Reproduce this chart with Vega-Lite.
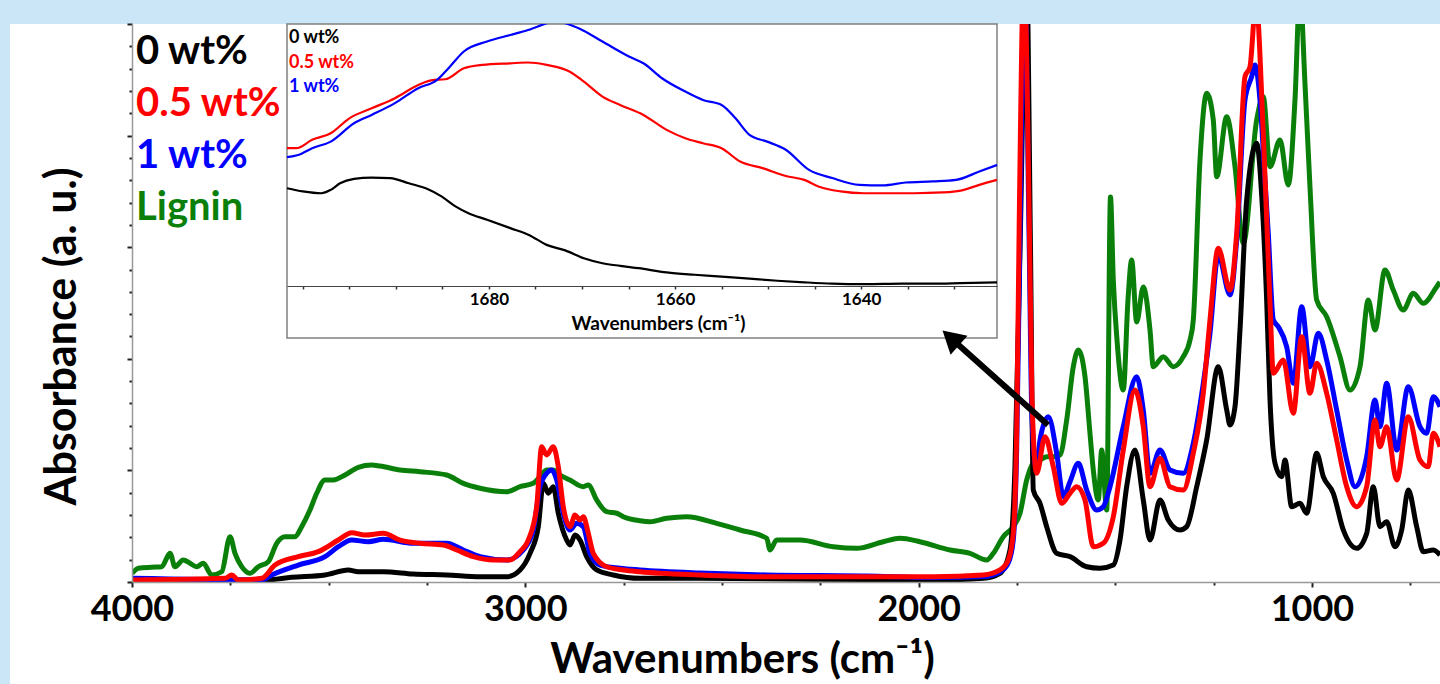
{
  "$schema": "https://vega.github.io/schema/vega-lite/v6.json",
  "width": 1308,
  "height": 558,
  "autosize": {"type": "none"},
  "padding": {"left": 132, "top": 24, "right": 0, "bottom": 102},
  "background": "#cbe6f6",
  "config": {
    "font": "Lato",
    "view": {"stroke": null},
    "axis": {"grid": false, "zindex": 1}
  },
  "datasets": {
    "main": [
      {"s":"Lignin","w":4000,"a":0.078},{"s":"Lignin","w":3984,"a":0.123},{"s":"Lignin","w":3950,"a":0.132},{"s":"Lignin","w":3924.5,"a":0.137},{"s":"Lignin","w":3903.4,"a":0.257},{"s":"Lignin","w":3890.7,"a":0.137},{"s":"Lignin","w":3869.6,"a":0.197},{"s":"Lignin","w":3852.5,"a":0.168},{"s":"Lignin","w":3835.5,"a":0.137},{"s":"Lignin","w":3818.7,"a":0.168},{"s":"Lignin","w":3797.4,"a":0.063},{"s":"Lignin","w":3771.9,"a":0.092},{"s":"Lignin","w":3750.8,"a":0.406},{"s":"Lignin","w":3738.1,"a":0.257},{"s":"Lignin","w":3721.1,"a":0.137},{"s":"Lignin","w":3700,"a":0.078},{"s":"Lignin","w":3678.9,"a":0.137},{"s":"Lignin","w":3653.5,"a":0.182},{"s":"Lignin","w":3632.1,"a":0.347},{"s":"Lignin","w":3611,"a":0.406},{"s":"Lignin","w":3585.6,"a":0.406},{"s":"Lignin","w":3568.6,"a":0.496},{"s":"Lignin","w":3547.5,"a":0.645},{"s":"Lignin","w":3530.4,"a":0.795},{"s":"Lignin","w":3509.3,"a":0.914},{"s":"Lignin","w":3488.2,"a":0.914},{"s":"Lignin","w":3458.5,"a":0.959},{"s":"Lignin","w":3424.7,"a":1.028},{"s":"Lignin","w":3390.6,"a":1.048},{"s":"Lignin","w":3369.5,"a":1.039},{"s":"Lignin","w":3318.6,"a":1.004},{"s":"Lignin","w":3267.8,"a":0.988},{"s":"Lignin","w":3199.9,"a":0.959},{"s":"Lignin","w":3157.7,"a":0.884},{"s":"Lignin","w":3115.2,"a":0.84},{"s":"Lignin","w":3047.4,"a":0.809},{"s":"Lignin","w":3013.5,"a":0.854},{"s":"Lignin","w":2979.7,"a":0.884},{"s":"Lignin","w":2962.7,"a":0.944},{"s":"Lignin","w":2945.7,"a":1.004},{"s":"Lignin","w":2928.9,"a":1.004},{"s":"Lignin","w":2911.9,"a":0.959},{"s":"Lignin","w":2886.4,"a":0.914},{"s":"Lignin","w":2852.6,"a":0.854},{"s":"Lignin","w":2839.9,"a":0.869},{"s":"Lignin","w":2818.6,"a":0.735},{"s":"Lignin","w":2793.1,"a":0.63},{"s":"Lignin","w":2767.7,"a":0.616},{"s":"Lignin","w":2750.9,"a":0.585},{"s":"Lignin","w":2708.5,"a":0.549},{"s":"Lignin","w":2683,"a":0.54},{"s":"Lignin","w":2640.6,"a":0.571},{"s":"Lignin","w":2589.7,"a":0.585},{"s":"Lignin","w":2513.5,"a":0.526},{"s":"Lignin","w":2454.2,"a":0.466},{"s":"Lignin","w":2386.3,"a":0.392},{"s":"Lignin","w":2377.9,"a":0.287},{"s":"Lignin","w":2360.9,"a":0.376},{"s":"Lignin","w":2301.7,"a":0.376},{"s":"Lignin","w":2217,"a":0.316},{"s":"Lignin","w":2157.5,"a":0.302},{"s":"Lignin","w":2089.9,"a":0.361},{"s":"Lignin","w":2047.4,"a":0.392},{"s":"Lignin","w":1996.6,"a":0.361},{"s":"Lignin","w":1920.3,"a":0.287},{"s":"Lignin","w":1869.5,"a":0.257},{"s":"Lignin","w":1827,"a":0.197},{"s":"Lignin","w":1810.2,"a":0.257},{"s":"Lignin","w":1784.8,"a":0.406},{"s":"Lignin","w":1759.4,"a":0.496},{"s":"Lignin","w":1742.3,"a":0.616},{"s":"Lignin","w":1725.3,"a":0.914},{"s":"Lignin","w":1708.5,"a":1.064},{"s":"Lignin","w":1691.5,"a":1.093},{"s":"Lignin","w":1674.5,"a":1.123},{"s":"Lignin","w":1657.7,"a":1.123},{"s":"Lignin","w":1640.7,"a":1.138},{"s":"Lignin","w":1623.6,"a":1.452},{"s":"Lignin","w":1606.8,"a":1.929},{"s":"Lignin","w":1594.1,"a":2.079},{"s":"Lignin","w":1577.1,"a":1.84},{"s":"Lignin","w":1564.4,"a":1.332},{"s":"Lignin","w":1556,"a":1.004},{"s":"Lignin","w":1543.3,"a":0.735},{"s":"Lignin","w":1534.6,"a":1.183},{"s":"Lignin","w":1521.9,"a":0.645},{"s":"Lignin","w":1512.3,"a":3.45},{"s":"Lignin","w":1505.1,"a":2.706},{"s":"Lignin","w":1495.7,"a":2.168},{"s":"Lignin","w":1479.7,"a":1.72},{"s":"Lignin","w":1467.8,"a":2.527},{"s":"Lignin","w":1458.4,"a":2.885},{"s":"Lignin","w":1445.7,"a":2.33},{"s":"Lignin","w":1428.9,"a":2.643},{"s":"Lignin","w":1411.8,"a":2.258},{"s":"Lignin","w":1403.5,"a":1.929},{"s":"Lignin","w":1378,"a":2.019},{"s":"Lignin","w":1352.6,"a":1.929},{"s":"Lignin","w":1327.2,"a":2.019},{"s":"Lignin","w":1310.1,"a":2.168},{"s":"Lignin","w":1301.7,"a":2.348},{"s":"Lignin","w":1284.7,"a":3.781},{"s":"Lignin","w":1267.7,"a":4.379},{"s":"Lignin","w":1250.9,"a":4.14},{"s":"Lignin","w":1242.2,"a":3.632},{"s":"Lignin","w":1216.8,"a":4.169},{"s":"Lignin","w":1195.7,"a":3.721},{"s":"Lignin","w":1174.6,"a":3.035},{"s":"Lignin","w":1140.6,"a":4.14},{"s":"Lignin","w":1123.8,"a":4.349},{"s":"Lignin","w":1106.7,"a":3.721},{"s":"Lignin","w":1081.3,"a":3.961},{"s":"Lignin","w":1060.2,"a":3.557},{"s":"Lignin","w":1043.2,"a":4.319},{"s":"Lignin","w":1030.5,"a":5.3},{"s":"Lignin","w":1017.8,"a":4.469},{"s":"Lignin","w":1005.1,"a":3.542},{"s":"Lignin","w":988,"a":2.527},{"s":"Lignin","w":962.6,"a":2.377},{"s":"Lignin","w":928.8,"a":2.019},{"s":"Lignin","w":903.4,"a":1.72},{"s":"Lignin","w":877.9,"a":1.929},{"s":"Lignin","w":856.8,"a":2.527},{"s":"Lignin","w":839.8,"a":2.258},{"s":"Lignin","w":814.4,"a":2.796},{"s":"Lignin","w":793.3,"a":2.616},{"s":"Lignin","w":767.8,"a":2.437},{"s":"Lignin","w":742.4,"a":2.587},{"s":"Lignin","w":717,"a":2.497},{"s":"Lignin","w":682.9,"a":2.646},{"s":"Lignin","w":674.5,"a":2.688},

      {"s":"0 wt%","w":4000,"a":0.012},{"s":"0 wt%","w":3661.9,"a":0.018},{"s":"0 wt%","w":3594,"a":0.042},{"s":"0 wt%","w":3509.3,"a":0.063},{"s":"0 wt%","w":3450.1,"a":0.108},{"s":"0 wt%","w":3424.7,"a":0.092},{"s":"0 wt%","w":3361.1,"a":0.092},{"s":"0 wt%","w":3284.8,"a":0.072},{"s":"0 wt%","w":3199.9,"a":0.063},{"s":"0 wt%","w":3115.2,"a":0.047},{"s":"0 wt%","w":3047.4,"a":0.047},{"s":"0 wt%","w":3013.5,"a":0.108},{"s":"0 wt%","w":2988.1,"a":0.257},{"s":"0 wt%","w":2967,"a":0.496},{"s":"0 wt%","w":2954.3,"a":0.884},{"s":"0 wt%","w":2941.6,"a":0.795},{"s":"0 wt%","w":2928.9,"a":0.854},{"s":"0 wt%","w":2916.2,"a":0.616},{"s":"0 wt%","w":2894.8,"a":0.376},{"s":"0 wt%","w":2886.4,"a":0.332},{"s":"0 wt%","w":2873.7,"a":0.421},{"s":"0 wt%","w":2861,"a":0.376},{"s":"0 wt%","w":2844,"a":0.227},{"s":"0 wt%","w":2818.6,"a":0.108},{"s":"0 wt%","w":2776.3,"a":0.063},{"s":"0 wt%","w":2708.5,"a":0.033},{"s":"0 wt%","w":2555.9,"a":0.033},{"s":"0 wt%","w":1962.8,"a":0.018},{"s":"0 wt%","w":1835.7,"a":0.033},{"s":"0 wt%","w":1793.2,"a":0.078},{"s":"0 wt%","w":1767.8,"a":0.287},{"s":"0 wt%","w":1755.1,"a":1.033},{"s":"0 wt%","w":1742.3,"a":2.975},{"s":"0 wt%","w":1725.8,"a":5.5},{"s":"0 wt%","w":1715.6,"a":2.975},{"s":"0 wt%","w":1708.5,"a":0.824},{"s":"0 wt%","w":1691.5,"a":0.705},{"s":"0 wt%","w":1674.5,"a":0.496},{"s":"0 wt%","w":1649,"a":0.257},{"s":"0 wt%","w":1615.2,"a":0.227},{"s":"0 wt%","w":1572.8,"a":0.137},{"s":"0 wt%","w":1539,"a":0.123},{"s":"0 wt%","w":1505.1,"a":0.152},{"s":"0 wt%","w":1488.1,"a":0.376},{"s":"0 wt%","w":1471.1,"a":0.854},{"s":"0 wt%","w":1450,"a":1.183},{"s":"0 wt%","w":1428.9,"a":0.735},{"s":"0 wt%","w":1411.8,"a":0.376},{"s":"0 wt%","w":1386.4,"a":0.735},{"s":"0 wt%","w":1365.3,"a":0.556},{"s":"0 wt%","w":1335.6,"a":0.466},{"s":"0 wt%","w":1318.5,"a":0.496},{"s":"0 wt%","w":1293.1,"a":0.854},{"s":"0 wt%","w":1267.7,"a":1.272},{"s":"0 wt%","w":1238.2,"a":1.929},{"s":"0 wt%","w":1216.8,"a":1.541},{"s":"0 wt%","w":1208.4,"a":1.407},{"s":"0 wt%","w":1195.7,"a":1.571},{"s":"0 wt%","w":1183,"a":2.258},{"s":"0 wt%","w":1166,"a":3.423},{"s":"0 wt%","w":1140.6,"a":3.931},{"s":"0 wt%","w":1127.1,"a":3.423},{"s":"0 wt%","w":1115.2,"a":2.527},{"s":"0 wt%","w":1106.7,"a":1.631},{"s":"0 wt%","w":1094,"a":1.064},{"s":"0 wt%","w":1077,"a":0.944},{"s":"0 wt%","w":1068.6,"a":1.093},{"s":"0 wt%","w":1051.6,"a":0.675},{"s":"0 wt%","w":1030.5,"a":0.705},{"s":"0 wt%","w":1013.5,"a":0.616},{"s":"0 wt%","w":988,"a":1.153},{"s":"0 wt%","w":971.2,"a":0.944},{"s":"0 wt%","w":945.8,"a":0.795},{"s":"0 wt%","w":920.4,"a":0.466},{"s":"0 wt%","w":886.3,"a":0.302},{"s":"0 wt%","w":860.9,"a":0.436},{"s":"0 wt%","w":844.1,"a":0.854},{"s":"0 wt%","w":827.1,"a":0.496},{"s":"0 wt%","w":810.1,"a":0.54},{"s":"0 wt%","w":788.9,"a":0.316},{"s":"0 wt%","w":771.9,"a":0.466},{"s":"0 wt%","w":755.1,"a":0.824},{"s":"0 wt%","w":733.8,"a":0.496},{"s":"0 wt%","w":717,"a":0.272},{"s":"0 wt%","w":691.6,"a":0.287},{"s":"0 wt%","w":674.5,"a":0.242},

      {"s":"1 wt%","w":4000,"a":0.033},{"s":"1 wt%","w":3670.3,"a":0.018},{"s":"1 wt%","w":3644.8,"a":0.063},{"s":"1 wt%","w":3577.2,"a":0.152},{"s":"1 wt%","w":3509.3,"a":0.227},{"s":"1 wt%","w":3475.5,"a":0.316},{"s":"1 wt%","w":3441.4,"a":0.376},{"s":"1 wt%","w":3399.2,"a":0.361},{"s":"1 wt%","w":3361.1,"a":0.383},{"s":"1 wt%","w":3284.8,"a":0.347},{"s":"1 wt%","w":3199.9,"a":0.347},{"s":"1 wt%","w":3157.7,"a":0.287},{"s":"1 wt%","w":3115.2,"a":0.227},{"s":"1 wt%","w":3047.4,"a":0.197},{"s":"1 wt%","w":3005.2,"a":0.287},{"s":"1 wt%","w":2979.7,"a":0.466},{"s":"1 wt%","w":2962.7,"a":0.854},{"s":"1 wt%","w":2945.7,"a":0.974},{"s":"1 wt%","w":2933,"a":1.004},{"s":"1 wt%","w":2920.2,"a":0.914},{"s":"1 wt%","w":2903.5,"a":0.616},{"s":"1 wt%","w":2886.4,"a":0.466},{"s":"1 wt%","w":2869.4,"a":0.526},{"s":"1 wt%","w":2852.6,"a":0.496},{"s":"1 wt%","w":2835.6,"a":0.257},{"s":"1 wt%","w":2810.2,"a":0.152},{"s":"1 wt%","w":2759.3,"a":0.123},{"s":"1 wt%","w":2708.5,"a":0.108},{"s":"1 wt%","w":2555.9,"a":0.081},{"s":"1 wt%","w":2386.3,"a":0.063},{"s":"1 wt%","w":2132.1,"a":0.054},{"s":"1 wt%","w":1962.8,"a":0.04},{"s":"1 wt%","w":1835.7,"a":0.049},{"s":"1 wt%","w":1793.2,"a":0.09},{"s":"1 wt%","w":1772.1,"a":0.17},{"s":"1 wt%","w":1759.4,"a":0.376},{"s":"1 wt%","w":1750.8,"a":1.183},{"s":"1 wt%","w":1742.3,"a":3.154},{"s":"1 wt%","w":1730.9,"a":5.5},{"s":"1 wt%","w":1719.5,"a":3.154},{"s":"1 wt%","w":1711.8,"a":1.452},{"s":"1 wt%","w":1699.9,"a":1.004},{"s":"1 wt%","w":1691.5,"a":1.272},{"s":"1 wt%","w":1670.4,"a":1.481},{"s":"1 wt%","w":1649,"a":1.153},{"s":"1 wt%","w":1632.2,"a":0.764},{"s":"1 wt%","w":1615.2,"a":0.899},{"s":"1 wt%","w":1594.1,"a":1.064},{"s":"1 wt%","w":1572.8,"a":0.824},{"s":"1 wt%","w":1547.3,"a":0.645},{"s":"1 wt%","w":1530.6,"a":0.675},{"s":"1 wt%","w":1513.5,"a":0.854},{"s":"1 wt%","w":1479.7,"a":1.392},{"s":"1 wt%","w":1445.7,"a":1.84},{"s":"1 wt%","w":1428.9,"a":1.541},{"s":"1 wt%","w":1411.8,"a":0.974},{"s":"1 wt%","w":1386.4,"a":1.183},{"s":"1 wt%","w":1361,"a":1.004},{"s":"1 wt%","w":1327.2,"a":0.974},{"s":"1 wt%","w":1301.7,"a":1.243},{"s":"1 wt%","w":1276.3,"a":1.78},{"s":"1 wt%","w":1259.3,"a":2.228},{"s":"1 wt%","w":1238.2,"a":2.93},{"s":"1 wt%","w":1208.4,"a":2.572},{"s":"1 wt%","w":1191.4,"a":3.065},{"s":"1 wt%","w":1170.3,"a":4.319},{"s":"1 wt%","w":1153.3,"a":4.528},{"s":"1 wt%","w":1144.9,"a":4.633},{"s":"1 wt%","w":1132.2,"a":4.319},{"s":"1 wt%","w":1119.5,"a":3.602},{"s":"1 wt%","w":1111.1,"a":3.125},{"s":"1 wt%","w":1098.3,"a":2.348},{"s":"1 wt%","w":1085.7,"a":2.288},{"s":"1 wt%","w":1064.3,"a":2.108},{"s":"1 wt%","w":1047.5,"a":1.78},{"s":"1 wt%","w":1026.1,"a":2.467},{"s":"1 wt%","w":1005.1,"a":1.929},{"s":"1 wt%","w":983.9,"a":2.228},{"s":"1 wt%","w":962.6,"a":1.989},{"s":"1 wt%","w":937.2,"a":1.541},{"s":"1 wt%","w":911.7,"a":1.093},{"s":"1 wt%","w":890.6,"a":0.854},{"s":"1 wt%","w":860.9,"a":1.123},{"s":"1 wt%","w":839.8,"a":1.631},{"s":"1 wt%","w":827.1,"a":1.392},{"s":"1 wt%","w":810.1,"a":1.78},{"s":"1 wt%","w":784.6,"a":1.183},{"s":"1 wt%","w":755.1,"a":1.75},{"s":"1 wt%","w":725.4,"a":1.392},{"s":"1 wt%","w":708.4,"a":1.332},{"s":"1 wt%","w":691.6,"a":1.66},{"s":"1 wt%","w":674.5,"a":1.571},

      {"s":"0.5 wt%","w":4000,"a":0.018},{"s":"0.5 wt%","w":3763.6,"a":0.033},{"s":"0.5 wt%","w":3746.5,"a":0.063},{"s":"0.5 wt%","w":3729.7,"a":0.018},{"s":"0.5 wt%","w":3670.3,"a":0.033},{"s":"0.5 wt%","w":3636.4,"a":0.152},{"s":"0.5 wt%","w":3577.2,"a":0.227},{"s":"0.5 wt%","w":3526.4,"a":0.272},{"s":"0.5 wt%","w":3475.5,"a":0.376},{"s":"0.5 wt%","w":3441.4,"a":0.442},{"s":"0.5 wt%","w":3407.6,"a":0.421},{"s":"0.5 wt%","w":3361.1,"a":0.436},{"s":"0.5 wt%","w":3318.6,"a":0.376},{"s":"0.5 wt%","w":3267.8,"a":0.347},{"s":"0.5 wt%","w":3208.6,"a":0.332},{"s":"0.5 wt%","w":3174.5,"a":0.287},{"s":"0.5 wt%","w":3132.3,"a":0.227},{"s":"0.5 wt%","w":3081.4,"a":0.197},{"s":"0.5 wt%","w":3039,"a":0.197},{"s":"0.5 wt%","w":3013.5,"a":0.272},{"s":"0.5 wt%","w":2992.5,"a":0.376},{"s":"0.5 wt%","w":2971.1,"a":0.675},{"s":"0.5 wt%","w":2958.4,"a":1.212},{"s":"0.5 wt%","w":2945.7,"a":1.138},{"s":"0.5 wt%","w":2928.9,"a":1.212},{"s":"0.5 wt%","w":2916.2,"a":1.033},{"s":"0.5 wt%","w":2903.5,"a":0.675},{"s":"0.5 wt%","w":2886.4,"a":0.496},{"s":"0.5 wt%","w":2873.7,"a":0.6},{"s":"0.5 wt%","w":2861,"a":0.556},{"s":"0.5 wt%","w":2852.6,"a":0.585},{"s":"0.5 wt%","w":2839.9,"a":0.436},{"s":"0.5 wt%","w":2827.2,"a":0.257},{"s":"0.5 wt%","w":2793.1,"a":0.137},{"s":"0.5 wt%","w":2750.9,"a":0.108},{"s":"0.5 wt%","w":2708.5,"a":0.092},{"s":"0.5 wt%","w":2555.9,"a":0.063},{"s":"0.5 wt%","w":2386.3,"a":0.047},{"s":"0.5 wt%","w":2132.1,"a":0.047},{"s":"0.5 wt%","w":1962.8,"a":0.047},{"s":"0.5 wt%","w":1835.7,"a":0.063},{"s":"0.5 wt%","w":1793.2,"a":0.108},{"s":"0.5 wt%","w":1772.1,"a":0.197},{"s":"0.5 wt%","w":1759.4,"a":0.436},{"s":"0.5 wt%","w":1750.8,"a":1.332},{"s":"0.5 wt%","w":1743.6,"a":3.423},{"s":"0.5 wt%","w":1732.2,"a":5.5},{"s":"0.5 wt%","w":1719.5,"a":3.423},{"s":"0.5 wt%","w":1711.8,"a":1.631},{"s":"0.5 wt%","w":1699.9,"a":0.974},{"s":"0.5 wt%","w":1678.8,"a":1.302},{"s":"0.5 wt%","w":1657.7,"a":1.033},{"s":"0.5 wt%","w":1636.3,"a":0.705},{"s":"0.5 wt%","w":1615.2,"a":0.795},{"s":"0.5 wt%","w":1598.2,"a":0.854},{"s":"0.5 wt%","w":1577.1,"a":0.735},{"s":"0.5 wt%","w":1556,"a":0.316},{"s":"0.5 wt%","w":1530.6,"a":0.347},{"s":"0.5 wt%","w":1505.1,"a":0.585},{"s":"0.5 wt%","w":1479.7,"a":1.183},{"s":"0.5 wt%","w":1450,"a":1.72},{"s":"0.5 wt%","w":1428.9,"a":1.392},{"s":"0.5 wt%","w":1411.8,"a":0.854},{"s":"0.5 wt%","w":1386.4,"a":1.108},{"s":"0.5 wt%","w":1361,"a":0.854},{"s":"0.5 wt%","w":1327.2,"a":0.824},{"s":"0.5 wt%","w":1301.7,"a":1.153},{"s":"0.5 wt%","w":1276.3,"a":1.691},{"s":"0.5 wt%","w":1259.3,"a":2.348},{"s":"0.5 wt%","w":1238.2,"a":2.99},{"s":"0.5 wt%","w":1208.4,"a":2.616},{"s":"0.5 wt%","w":1191.4,"a":3.125},{"s":"0.5 wt%","w":1170.3,"a":4.528},{"s":"0.5 wt%","w":1157.6,"a":4.617},{"s":"0.5 wt%","w":1142.3,"a":5.2},{"s":"0.5 wt%","w":1123.8,"a":4.021},{"s":"0.5 wt%","w":1106.7,"a":2.5},{"s":"0.5 wt%","w":1098.3,"a":1.87},{"s":"0.5 wt%","w":1072.9,"a":1.989},{"s":"0.5 wt%","w":1047.5,"a":1.512},{"s":"0.5 wt%","w":1026.1,"a":2.198},{"s":"0.5 wt%","w":1005.1,"a":1.691},{"s":"0.5 wt%","w":988,"a":1.96},{"s":"0.5 wt%","w":962.6,"a":1.691},{"s":"0.5 wt%","w":937.2,"a":1.272},{"s":"0.5 wt%","w":911.7,"a":0.854},{"s":"0.5 wt%","w":886.3,"a":0.675},{"s":"0.5 wt%","w":860.9,"a":0.854},{"s":"0.5 wt%","w":839.8,"a":1.452},{"s":"0.5 wt%","w":827.1,"a":1.212},{"s":"0.5 wt%","w":810.1,"a":1.392},{"s":"0.5 wt%","w":784.6,"a":0.914},{"s":"0.5 wt%","w":755.1,"a":1.481},{"s":"0.5 wt%","w":725.4,"a":1.093},{"s":"0.5 wt%","w":704.3,"a":1.033},{"s":"0.5 wt%","w":691.6,"a":1.332},{"s":"0.5 wt%","w":674.5,"a":1.212}
    ],
    "inset": [
      {"s":"0 wt%","w":1701.7,"a":37.3},{"s":"0 wt%","w":1700,"a":36.1},{"s":"0 wt%","w":1698,"a":35.4},{"s":"0 wt%","w":1697,"a":36.7},{"s":"0 wt%","w":1696,"a":39.2},{"s":"0 wt%","w":1694.5,"a":40.9},{"s":"0 wt%","w":1692.6,"a":41.4},{"s":"0 wt%","w":1690.6,"a":41.2},{"s":"0 wt%","w":1688.6,"a":39.2},{"s":"0 wt%","w":1686.6,"a":37},{"s":"0 wt%","w":1685.1,"a":34.2},{"s":"0 wt%","w":1683.6,"a":30.4},{"s":"0 wt%","w":1682.2,"a":27.8},{"s":"0 wt%","w":1680.2,"a":25.3},{"s":"0 wt%","w":1677.7,"a":22.1},{"s":"0 wt%","w":1675.7,"a":19.5},{"s":"0 wt%","w":1673.8,"a":15.7},{"s":"0 wt%","w":1671.8,"a":13.6},{"s":"0 wt%","w":1669.8,"a":10.6},{"s":"0 wt%","w":1667.8,"a":8.7},{"s":"0 wt%","w":1665.9,"a":7.7},{"s":"0 wt%","w":1663.9,"a":6.8},{"s":"0 wt%","w":1660.9,"a":5.2},{"s":"0 wt%","w":1657.9,"a":4.3},{"s":"0 wt%","w":1655,"a":3.6},{"s":"0 wt%","w":1652,"a":2.8},{"s":"0 wt%","w":1649,"a":2},{"s":"0 wt%","w":1646.1,"a":1.4},{"s":"0 wt%","w":1643.1,"a":0.9},{"s":"0 wt%","w":1639.6,"a":0.7},{"s":"0 wt%","w":1635.6,"a":0.9},{"s":"0 wt%","w":1632.3,"a":0.9},{"s":"0 wt%","w":1629.3,"a":1.1},{"s":"0 wt%","w":1625.4,"a":1.4},

      {"s":"0.5 wt%","w":1701.7,"a":52.6},{"s":"0.5 wt%","w":1700.7,"a":52.6},{"s":"0.5 wt%","w":1699,"a":55.8},{"s":"0.5 wt%","w":1697,"a":58.3},{"s":"0.5 wt%","w":1695,"a":64},{"s":"0.5 wt%","w":1692.6,"a":67.8},{"s":"0.5 wt%","w":1690.1,"a":71.7},{"s":"0.5 wt%","w":1687.6,"a":76.7},{"s":"0.5 wt%","w":1686.1,"a":78.6},{"s":"0.5 wt%","w":1684.7,"a":78.9},{"s":"0.5 wt%","w":1682.7,"a":83.1},{"s":"0.5 wt%","w":1680.7,"a":84.4},{"s":"0.5 wt%","w":1677.7,"a":85},{"s":"0.5 wt%","w":1675.8,"a":85.3},{"s":"0.5 wt%","w":1673.8,"a":84.4},{"s":"0.5 wt%","w":1671.3,"a":81.8},{"s":"0.5 wt%","w":1669.8,"a":78},{"s":"0.5 wt%","w":1667.8,"a":72.3},{"s":"0.5 wt%","w":1665.9,"a":69.1},{"s":"0.5 wt%","w":1663.4,"a":65.3},{"s":"0.5 wt%","w":1660.9,"a":59.6},{"s":"0.5 wt%","w":1658.9,"a":56.4},{"s":"0.5 wt%","w":1657,"a":54.5},{"s":"0.5 wt%","w":1655,"a":52.6},{"s":"0.5 wt%","w":1653,"a":47.5},{"s":"0.5 wt%","w":1650.6,"a":45},{"s":"0.5 wt%","w":1648.1,"a":42},{"s":"0.5 wt%","w":1646.1,"a":40.5},{"s":"0.5 wt%","w":1644.6,"a":38},{"s":"0.5 wt%","w":1642.2,"a":36.1},{"s":"0.5 wt%","w":1639.7,"a":35.4},{"s":"0.5 wt%","w":1637.2,"a":35.4},{"s":"0.5 wt%","w":1634.3,"a":35.4},{"s":"0.5 wt%","w":1631.3,"a":35.7},{"s":"0.5 wt%","w":1629.3,"a":36.4},{"s":"0.5 wt%","w":1627.3,"a":38.6},{"s":"0.5 wt%","w":1625.4,"a":40.5},

      {"s":"1 wt%","w":1701.7,"a":49.2},{"s":"1 wt%","w":1700.5,"a":50},{"s":"1 wt%","w":1699,"a":52.6},{"s":"1 wt%","w":1697,"a":55.1},{"s":"1 wt%","w":1694.5,"a":62.1},{"s":"1 wt%","w":1692.6,"a":65.3},{"s":"1 wt%","w":1690.1,"a":69.8},{"s":"1 wt%","w":1687.6,"a":75.5},{"s":"1 wt%","w":1685.6,"a":78.6},{"s":"1 wt%","w":1684.2,"a":83.7},{"s":"1 wt%","w":1682.7,"a":89.5},{"s":"1 wt%","w":1680.2,"a":93.3},{"s":"1 wt%","w":1677.7,"a":95.8},{"s":"1 wt%","w":1675.8,"a":97.7},{"s":"1 wt%","w":1673.8,"a":100.3},{"s":"1 wt%","w":1672.8,"a":101.5},{"s":"1 wt%","w":1671.8,"a":100.3},{"s":"1 wt%","w":1670.3,"a":98.3},{"s":"1 wt%","w":1667.8,"a":93.3},{"s":"1 wt%","w":1664.9,"a":87.5},{"s":"1 wt%","w":1663.4,"a":85},{"s":"1 wt%","w":1661.4,"a":79.3},{"s":"1 wt%","w":1658.9,"a":74.2},{"s":"1 wt%","w":1657,"a":71},{"s":"1 wt%","w":1655,"a":69.1},{"s":"1 wt%","w":1653.5,"a":64},{"s":"1 wt%","w":1652,"a":57.7},{"s":"1 wt%","w":1650.1,"a":55.1},{"s":"1 wt%","w":1648.1,"a":52},{"s":"1 wt%","w":1645.6,"a":44.3},{"s":"1 wt%","w":1643.1,"a":41.2},{"s":"1 wt%","w":1640.2,"a":38.6},{"s":"1 wt%","w":1637.7,"a":38.4},{"s":"1 wt%","w":1635.2,"a":39.5},{"s":"1 wt%","w":1632.3,"a":39.9},{"s":"1 wt%","w":1629.8,"a":40.5},{"s":"1 wt%","w":1627.3,"a":43.7},{"s":"1 wt%","w":1625.4,"a":46.2}
    ],
    "arrow": [{"w":1671.2,"a":1.407,"w2":1918.3,"a2":2.187}],
    "one": [{"k": 1}]
  },
  "layer": [
    {
      "data": {"name": "one"},
      "mark": {"type": "rect", "fill": "#ffffff", "clip": false},
      "encoding": {
        "x": {"datum": 4310, "type": "quantitative", "scale": {"domain": [4000, 674.5], "nice": false, "zero": false}, "axis": null},
        "x2": {"datum": 600},
        "y": {"datum": -0.92, "type": "quantitative", "scale": {"domain": [0, 5], "nice": false, "zero": false}, "axis": null},
        "y2": {"datum": 5}
      }
    },
    {
      "data": {"name": "main"},
      "mark": {"type": "line", "strokeWidth": 5, "clip": true, "strokeJoin": "round", "interpolate": "monotone"},
      "encoding": {
        "x": {
          "field": "w", "type": "quantitative",
          "scale": {"domain": [4000, 674.5], "nice": false, "zero": false},
          "axis": {
            "orient": "bottom",
            "values": [4000, 3750, 3500, 3250, 3000, 2750, 2500, 2250, 2000, 1750, 1500, 1250, 1000, 750],
            "format": "d",
            "labelExpr": "datum.value % 1000 === 0 ? datum.label : ''",
            "labelFont": "Lato", "labelFontSize": 36, "labelFontWeight": "bold", "labelColor": "#000000",
            "labelFlush": false, "labelOverlap": false, "labelBound": false, "labelPadding": 5,
            "tickSize": {"condition": {"test": "datum.value % 1000 === 0", "value": 5}, "value": 3},
            "tickColor": "#222222", "tickWidth": 2,
            "domainColor": "#999999", "domainWidth": 1.5,
            "title": "Wavenumbers (cm⁻¹)",
            "titleFont": "Lato", "titleFontSize": 42, "titleFontWeight": "bold", "titleColor": "#000000",
            "titleX": 610, "titleY": 77, "titleBaseline": "middle", "titleAnchor": "middle",
            "zindex": 1
          }
        },
        "y": {
          "field": "a", "type": "quantitative",
          "scale": {"domain": [0, 5], "nice": false, "zero": false},
          "axis": {
            "orient": "left",
            "values": [0, 0.2, 0.4, 0.6, 0.8, 1, 1.2, 1.4, 1.6, 1.8, 2, 2.2, 2.4, 2.6, 2.8, 3, 3.2, 3.4, 3.6, 3.8, 4, 4.2, 4.4, 4.6, 4.8, 5],
            "labels": false,
            "tickSize": {"condition": {"test": "datum.value % 1 === 0", "value": 5}, "value": 3},
            "tickColor": "#222222", "tickWidth": 2,
            "domainColor": "#999999", "domainWidth": 1.5,
            "title": "Absorbance (a. u.)",
            "titleFont": "Lato", "titleFontSize": 43, "titleFontWeight": "bold", "titleColor": "#000000",
            "titleX": -70, "titleY": 312, "titleBaseline": "middle", "titleAngle": 270, "titleAnchor": "middle",
            "zindex": 1
          }
        },
        "color": {
          "field": "s", "type": "nominal",
          "scale": {"domain": ["0 wt%", "0.5 wt%", "1 wt%", "Lignin"], "range": ["#000000", "#ff0000", "#0000ff", "#0a800a"]},
          "legend": {
            "orient": "none", "legendX": -36, "legendY": 8, "title": null, "padding": 0,
            "symbolType": "circle", "symbolSize": 0, "symbolStrokeWidth": 0, "symbolOpacity": 0, "labelOffset": 0,
            "labelFont": "Lato", "labelFontSize": 40, "labelFontWeight": "bold", "labelLimit": 500,
            "rowPadding": 12,
            "labelColor": {"expr": "datum.value === '0 wt%' ? '#000000' : datum.value === '0.5 wt%' ? '#ff0000' : datum.value === '1 wt%' ? '#0000ff' : '#0a800a'"}
          }
        }
      }
    },
    {
      "data": {"name": "one"},
      "mark": {"type": "rect", "fill": "#ffffff", "stroke": "#808080", "strokeWidth": 1.5, "clip": false},
      "encoding": {
        "x": {"datum": 1701.7, "type": "quantitative", "scale": {"domain": [1701.7, 1625.4], "range": [155, 865], "nice": false, "zero": false}, "axis": null},
        "x2": {"datum": 1625.4},
        "y": {"datum": -19.85, "type": "quantitative", "scale": {"domain": [0, 100], "range": [262, 0], "nice": false, "zero": false}, "axis": null},
        "y2": {"datum": 100}
      }
    },
    {
      "data": {"name": "inset"},
      "mark": {"type": "line", "strokeWidth": 2.2, "clip": true, "interpolate": "monotone"},
      "encoding": {
        "x": {
          "field": "w", "type": "quantitative",
          "scale": {"domain": [1701.7, 1625.4], "range": [155, 865], "nice": false, "zero": false},
          "axis": {
            "orient": "bottom", "offset": -296,
            "values": [1700, 1695, 1690, 1685, 1680, 1675, 1670, 1665, 1660, 1655, 1650, 1645, 1640, 1635, 1630],
            "format": "d",
            "labelExpr": "datum.value % 20 === 0 && datum.value < 1690 ? datum.label : ''",
            "labelFont": "Lato", "labelFontSize": 17, "labelFontWeight": "bold", "labelColor": "#000000",
            "labelFlush": false, "labelOverlap": false, "labelPadding": 2,
            "tickSize": 3, "tickColor": "#333333", "tickWidth": 1.5,
            "domainColor": "#444444", "domainWidth": 1.2,
            "title": "Wavenumbers (cm⁻¹)",
            "titleFont": "Lato", "titleFontSize": 19, "titleFontWeight": "bold", "titleColor": "#000000",
            "titleX": 526, "titleY": 37, "titleBaseline": "middle", "titleAnchor": "middle",
            "zindex": 1
          }
        },
        "y": {
          "field": "a", "type": "quantitative",
          "scale": {"domain": [0, 100], "range": [262, 0], "nice": false, "zero": false},
          "axis": null
        },
        "color": {
          "field": "s", "type": "nominal",
          "scale": {"domain": ["0 wt%", "0.5 wt%", "1 wt%"], "range": ["#000000", "#ff0000", "#0000ff"]},
          "legend": {
            "orient": "none", "legendX": 139, "legendY": 5, "title": null, "padding": 0,
            "symbolType": "circle", "symbolSize": 0, "symbolStrokeWidth": 0, "symbolOpacity": 0, "labelOffset": 0,
            "labelFont": "Lato", "labelFontSize": 18, "labelFontWeight": "bold", "labelLimit": 300,
            "rowPadding": 6.5,
            "labelColor": {"expr": "datum.value === '0 wt%' ? '#000000' : datum.value === '0.5 wt%' ? '#ff0000' : '#0000ff'"}
          }
        }
      }
    },
    {
      "data": {"name": "arrow"},
      "layer": [
        {
          "mark": {"type": "rule", "strokeWidth": 6, "color": "#000000", "clip": false},
          "encoding": {
            "x": {"field": "w", "type": "quantitative", "scale": {"domain": [4000, 674.5], "nice": false, "zero": false}, "axis": null},
            "y": {"field": "a", "type": "quantitative", "scale": {"domain": [0, 5], "nice": false, "zero": false}, "axis": null},
            "x2": {"field": "w2"},
            "y2": {"field": "a2"}
          }
        },
        {
          "mark": {"type": "point", "shape": "triangle-up", "filled": true, "color": "#000000", "opacity": 1, "size": 650, "angle": 311.6, "clip": false},
          "encoding": {
            "x": {"field": "w2", "type": "quantitative", "scale": {"domain": [4000, 674.5], "nice": false, "zero": false}, "axis": null},
            "y": {"field": "a2", "type": "quantitative", "scale": {"domain": [0, 5], "nice": false, "zero": false}, "axis": null}
          }
        }
      ]
    }
  ],
  "resolve": {
    "scale": {"x": "independent", "y": "independent", "color": "independent"},
    "axis": {"x": "independent", "y": "independent"},
    "legend": {"color": "independent"}
  }
}
